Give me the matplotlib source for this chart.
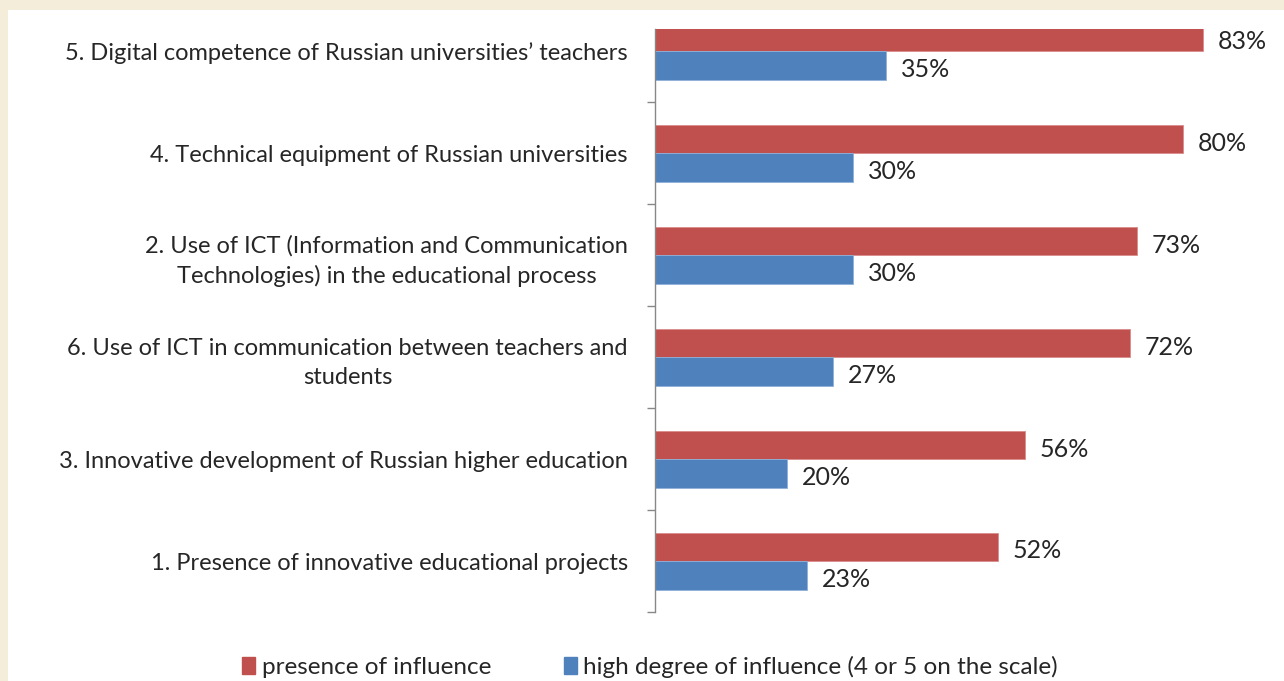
#!/usr/bin/env python3
"""
Horizontal grouped bar chart: influence factors on digitalisation of Russian universities
"""
import matplotlib
matplotlib.use('Agg')
import matplotlib.pyplot as plt
import matplotlib.patches as patches
import numpy as np

# data, bottom to top as drawn
categories = [
    '1. Presence of innovative educational projects',
    '3. Innovative development of Russian higher education',
    '6. Use of ICT in communication between teachers and\nstudents',
    '2. Use of ICT (Information and Communication\nTechnologies) in the educational process',
    '4. Technical equipment of Russian universities',
    '5. Digital competence of Russian universities\u2019 teachers',
]
presence = [52, 56, 72, 73, 80, 83]
high_degree = [23, 20, 27, 30, 30, 35]
series_names = ['presence of influence', 'high degree of influence (4 or 5 on the scale)']

RED = '#C0504D'
BLUE = '#4F81BD'
TEXT = '#262626'

plt.rcParams['font.family'] = ['Lato', 'DejaVu Sans']

fig = plt.figure(figsize=(12.84, 6.81), dpi=100)
fig.patch.set_facecolor('#F4EDDA')

# white slide area (cream margin top and left)
W, H = 1284, 681
fig.patches.append(patches.Rectangle((8 / W, 0), 1, 1 - 10 / H, transform=fig.transFigure,
                                     facecolor='white', edgecolor='none', zorder=-5))

ax = fig.add_axes([655 / W, (H - 612) / H, (W - 655) / W, (612 - 29) / H])
ax.set_facecolor('none')
ax.set_zorder(2)

y = np.arange(len(categories))
h = 0.28
bars_r = ax.barh(y + h / 2, presence, height=h, color=RED, edgecolor='#D98C8A', linewidth=0.6,
                 label=series_names[0])
bars_b = ax.barh(y - h / 2, high_degree, height=h, color=BLUE, edgecolor='#8FB0DA', linewidth=0.6,
                 label=series_names[1])

for bars in (bars_r, bars_b):
    for b in bars:
        w = b.get_width()
        ax.annotate(f'{w:.0f}%', (w, b.get_y() + b.get_height() / 2),
                    xytext=(10.5, -3), textcoords='offset points',
                    ha='left', va='center', fontsize=18, color=TEXT, annotation_clip=False)

ax.set_xlim(0, (W - 655) / 6.6)
ax.set_ylim(-0.5, 5.22)

# labels at category centres, tick marks at boundaries
ax.set_yticks(y)
ax.set_yticklabels(categories, fontsize=17, color=TEXT)
for t in ax.get_yticklabels():
    t.set_multialignment('center')
    t.set_linespacing(1.45)
ax.tick_params(axis='y', which='major', length=0, pad=19.5)
ax.set_yticks(np.arange(-0.5, 5.0, 1.0), minor=True)
ax.tick_params(axis='y', which='minor', length=6, width=1, color='#888888', direction='out')
ax.set_xticks([])

for s in ('top', 'right', 'bottom'):
    ax.spines[s].set_visible(False)
ax.spines['left'].set_color('#888888')
ax.spines['left'].set_linewidth(1)

handles = [patches.Patch(color=RED), patches.Patch(color=BLUE)]
fig.legend(handles, series_names, loc='center', bbox_to_anchor=(650 / W, (H - 667) / H),
           ncol=2, frameon=False, fontsize=17.5, handlelength=0.55, handleheight=0.7,
           handletextpad=0.25, columnspacing=3.0, labelcolor=TEXT)

plt.savefig('out.png', dpi=100, facecolor=fig.get_facecolor())
plt.close()
